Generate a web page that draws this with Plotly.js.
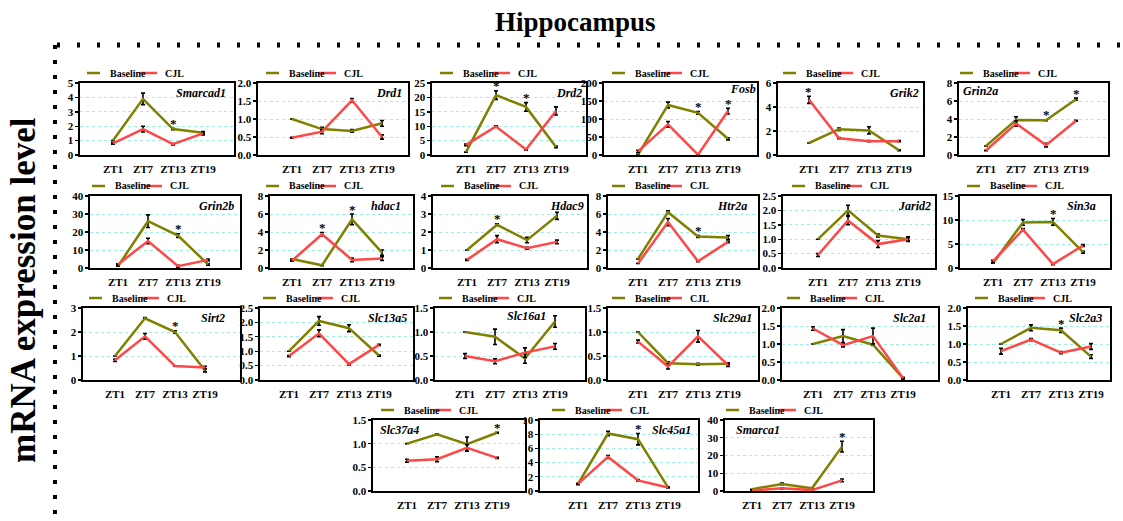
<!DOCTYPE html>
<html>
<head>
<meta charset="utf-8">
<script src="https://cdn.plot.ly/plotly-3.0.1.min.js"></script>
<style>
  html, body { margin: 0; padding: 0; background: #ffffff; }
  #chart { width: 1123px; height: 521px; }
</style>
</head>
<body>
<div id="chart"></div>
<script>
// Sampling times
const timepoints = ['ZT1', 'ZT7', 'ZT13', 'ZT19'];
const seriesNames = ['Baseline', 'CJL'];

// Relative mRNA level (mean, error) per gene; *Sig = time indices marked significant
const smarcad1Base = [1.00, 3.90, 1.80, 1.55], smarcad1BaseErr = [0, 0.40, 0.05, 0.08];
const smarcad1Cjl  = [0.80, 1.80, 0.75, 1.50], smarcad1CjlErr  = [0.05, 0.20, 0.05, 0.10];
const smarcad1Sig  = [2];

const drd1Base = [1.00, 0.72, 0.67, 0.88], drd1BaseErr = [0, 0.05, 0.04, 0.08];
const drd1Cjl  = [0.48, 0.65, 1.52, 0.50], drd1CjlErr  = [0.01, 0.06, 0.05, 0.06];
const drd1Sig  = [];

const drd2Base = [1.0, 20.8, 16.7, 2.8], drd2BaseErr = [0, 1.5, 1.5, 0.3];
const drd2Cjl  = [3.5, 9.9, 1.9, 15.3],  drd2CjlErr  = [0.3, 0.2, 0.2, 1.4];
const drd2Sig  = [1, 2];

const fosbBase = [1, 139, 117, 45], fosbBaseErr = [0, 8, 4, 3];
const fosbCjl  = [10, 85, 1, 122],  fosbCjlErr  = [3, 8, 0, 8];
const fosbSig  = [2, 3];

const grik2Base = [1.00, 2.15, 2.05, 0.40], grik2BaseErr = [0, 0.10, 0.30, 0.04];
const grik2Cjl  = [4.60, 1.40, 1.15, 1.15], grik2CjlErr  = [0.30, 0.05, 0.05, 0.05];
const grik2Sig  = [0];

const grin2aBase = [1.00, 3.90, 3.85, 6.20], grin2aBaseErr = [0, 0.35, 0.05, 0.12];
const grin2aCjl  = [0.50, 3.50, 1.10, 3.80], grin2aCjlErr  = [0.03, 0.30, 0.20, 0.05];
const grin2aSig  = [2, 3];

const grin2bBase = [1, 26, 18, 2.0], grin2bBaseErr = [0, 3.5, 1.0, 0.5];
const grin2bCjl  = [2, 15, 1, 4.5],  grin2bCjlErr  = [0.3, 1.5, 0.5, 0.5];
const grin2bSig  = [2];

const hdac1Base = [1.00, 0.30, 5.40, 1.70], hdac1BaseErr = [0, 0.05, 0.60, 0.30];
const hdac1Cjl  = [0.80, 3.75, 0.90, 1.05], hdac1CjlErr  = [0.05, 0.20, 0.20, 0.20];
const hdac1Sig  = [1, 2];

const hdac9Base = [1.00, 2.40, 1.55, 2.90], hdac9BaseErr = [0, 0.05, 0.15, 0.20];
const hdac9Cjl  = [0.45, 1.60, 1.10, 1.45], hdac9CjlErr  = [0.03, 0.20, 0.05, 0.10];
const hdac9Sig  = [1];

const htr2aBase = [1.00, 6.20, 3.50, 3.40], htr2aBaseErr = [0, 0.15, 0.10, 0.20];
const htr2aCjl  = [0.50, 5.10, 0.75, 2.90], htr2aCjlErr  = [0, 0.40, 0.05, 0.10];
const htr2aSig  = [2];

const jarid2Base = [1.00, 2.00, 1.13, 1.00], jarid2BaseErr = [0, 0.18, 0.05, 0.08];
const jarid2Cjl  = [0.45, 1.65, 0.83, 1.00], jarid2CjlErr  = [0.05, 0.15, 0.12, 0.05];
const jarid2Sig  = [];

const sin3aBase = [1.0, 9.5, 9.6, 3.3], sin3aBaseErr = [0, 0.6, 0.7, 0.2];
const sin3aCjl  = [1.4, 8.0, 0.8, 4.7], sin3aCjlErr  = [0.2, 0.2, 0.1, 0.2];
const sin3aSig  = [2];

const sirt2Base = [1.00, 2.57, 2.00, 0.40], sirt2BaseErr = [0, 0.03, 0.05, 0.06];
const sirt2Cjl  = [0.82, 1.82, 0.58, 0.52], sirt2CjlErr  = [0.05, 0.12, 0, 0.05];
const sirt2Sig  = [2];

const slc13a5Base = [1.00, 2.05, 1.80, 0.85], slc13a5BaseErr = [0, 0.15, 0.12, 0.02];
const slc13a5Cjl  = [0.83, 1.62, 0.55, 1.22], slc13a5CjlErr  = [0.02, 0.12, 0.03, 0.02];
const slc13a5Sig  = [];

const slc16a1Base = [1.00, 0.90, 0.45, 1.22], slc16a1BaseErr = [0, 0.16, 0.10, 0.12];
const slc16a1Cjl  = [0.50, 0.39, 0.57, 0.70], slc16a1CjlErr  = [0.05, 0.05, 0.10, 0.06];
const slc16a1Sig  = [];

const slc29a1Base = [1.00, 0.35, 0.33, 0.34], slc29a1BaseErr = [0, 0.03, 0.02, 0.02];
const slc29a1Cjl  = [0.80, 0.28, 0.91, 0.31], slc29a1CjlErr  = [0.03, 0.05, 0.12, 0.03];
const slc29a1Sig  = [];

const slc2a1Base = [1.00, 1.22, 0.98, 0.05], slc2a1BaseErr = [0, 0.18, 0.02, 0.02];
const slc2a1Cjl  = [1.43, 0.97, 1.22, 0.05], slc2a1CjlErr  = [0.05, 0.05, 0.22, 0.02];
const slc2a1Sig  = [];

const slc2a3Base = [1.00, 1.45, 1.38, 0.65], slc2a3BaseErr = [0, 0.08, 0.06, 0.05];
const slc2a3Cjl  = [0.80, 1.12, 0.76, 0.93], slc2a3CjlErr  = [0.08, 0.03, 0.03, 0.08];
const slc2a3Sig  = [2];

const slc37a4Base = [1.00, 1.20, 0.99, 1.23], slc37a4BaseErr = [0, 0.01, 0.15, 0.01];
const slc37a4Cjl  = [0.64, 0.67, 0.91, 0.70], slc37a4CjlErr  = [0.03, 0.05, 0.07, 0.01];
const slc37a4Sig  = [3];

const slc45a1Base = [1.0, 8.1, 7.3, 0.5], slc45a1BaseErr = [0, 0.3, 0.8, 0.05];
const slc45a1Cjl  = [1.0, 4.8, 1.5, 0.5], slc45a1CjlErr  = [0.1, 0.2, 0.1, 0.05];
const slc45a1Sig  = [2];

const smarca1Base = [1.0, 4.0, 1.5, 25.0], smarca1BaseErr = [0, 0.5, 0.3, 3.0];
const smarca1Cjl  = [0.3, 1.5, 0.5, 6.0],  smarca1CjlErr  = [0, 0.3, 0.1, 0.8];
const smarca1Sig  = [3];

// Gene table: name, series, y-axis top and tick step
const genes = [
  ['Smarcad1', smarcad1Base, smarcad1BaseErr, smarcad1Cjl, smarcad1CjlErr, smarcad1Sig, 5, 1],
  ['Drd1', drd1Base, drd1BaseErr, drd1Cjl, drd1CjlErr, drd1Sig, 2, 0.5],
  ['Drd2', drd2Base, drd2BaseErr, drd2Cjl, drd2CjlErr, drd2Sig, 25, 5],
  ['Fosb', fosbBase, fosbBaseErr, fosbCjl, fosbCjlErr, fosbSig, 200, 50],
  ['Grik2', grik2Base, grik2BaseErr, grik2Cjl, grik2CjlErr, grik2Sig, 6, 2],
  ['Grin2a', grin2aBase, grin2aBaseErr, grin2aCjl, grin2aCjlErr, grin2aSig, 8, 2],
  ['Grin2b', grin2bBase, grin2bBaseErr, grin2bCjl, grin2bCjlErr, grin2bSig, 40, 10],
  ['hdac1', hdac1Base, hdac1BaseErr, hdac1Cjl, hdac1CjlErr, hdac1Sig, 8, 2],
  ['Hdac9', hdac9Base, hdac9BaseErr, hdac9Cjl, hdac9CjlErr, hdac9Sig, 4, 1],
  ['Htr2a', htr2aBase, htr2aBaseErr, htr2aCjl, htr2aCjlErr, htr2aSig, 8, 2],
  ['Jarid2', jarid2Base, jarid2BaseErr, jarid2Cjl, jarid2CjlErr, jarid2Sig, 2.5, 0.5],
  ['Sin3a', sin3aBase, sin3aBaseErr, sin3aCjl, sin3aCjlErr, sin3aSig, 15, 5],
  ['Sirt2', sirt2Base, sirt2BaseErr, sirt2Cjl, sirt2CjlErr, sirt2Sig, 3, 1],
  ['Slc13a5', slc13a5Base, slc13a5BaseErr, slc13a5Cjl, slc13a5CjlErr, slc13a5Sig, 2.5, 0.5],
  ['Slc16a1', slc16a1Base, slc16a1BaseErr, slc16a1Cjl, slc16a1CjlErr, slc16a1Sig, 1.5, 0.5],
  ['Slc29a1', slc29a1Base, slc29a1BaseErr, slc29a1Cjl, slc29a1CjlErr, slc29a1Sig, 1.5, 0.5],
  ['Slc2a1', slc2a1Base, slc2a1BaseErr, slc2a1Cjl, slc2a1CjlErr, slc2a1Sig, 2, 0.5],
  ['Slc2a3', slc2a3Base, slc2a3BaseErr, slc2a3Cjl, slc2a3CjlErr, slc2a3Sig, 2, 0.5],
  ['Slc37a4', slc37a4Base, slc37a4BaseErr, slc37a4Cjl, slc37a4CjlErr, slc37a4Sig, 1.5, 0.5],
  ['Slc45a1', slc45a1Base, slc45a1BaseErr, slc45a1Cjl, slc45a1CjlErr, slc45a1Sig, 10, 2],
  ['Smarca1', smarca1Base, smarca1BaseErr, smarca1Cjl, smarca1CjlErr, smarca1Sig, 40, 10]
];

// Panel frames in page pixels: left, right, top, bottom, x of first time point,
// gene-name side, inset from that side, drop below the frame top
const panelFrames = [
  [80, 234, 83, 155, 113, 'r', 7, 10],   [258, 408, 83, 155, 292, 'r', 5, 10],
  [432, 586, 83, 155, 466, 'r', 3, 10],  [604, 757, 83, 155, 638, 'r', 0, 6],
  [778, 923, 83, 155, 809, 'r', 3, 10],  [959, 1108, 83, 155, 986, 'l', 3, 8],
  [90, 240, 196, 268, 118, 'r', 5, 10],  [270, 413, 196, 268, 292, 'r', 11, 10],
  [433, 587, 196, 268, 467, 'r', 2, 10], [608, 758, 196, 268, 638, 'r', 10, 10],
  [783, 935, 196, 268, 818, 'r', 3, 10], [960, 1110, 196, 268, 993, 'r', 13, 10],
  [83, 240, 308, 380, 115, 'r', 14, 10], [260, 413, 308, 380, 289, 'r', 5, 10],
  [435, 585, 308, 380, 465, 'r', 38, 8], [608, 758, 308, 380, 638, 'r', 5, 10],
  [782, 938, 308, 380, 813, 'r', 11, 10],[968, 1110, 308, 380, 1001, 'r', 7, 10],
  [373, 525, 420, 491, 407, 'l', 6, 10], [540, 698, 420, 491, 578, 'r', 6, 10],
  [725, 873, 420, 491, 752, 'l', 10, 10]
];

const W = 1123, H = 521;
const STEP = 30;                 // pixels between time points
const OLIVE = '#7f8000', RED = '#ff4747';
const SERIF = 'Liberation Serif, Times New Roman, serif';
const px = v => v / W;
const py = v => 1 - v / H;

const traces = [];
const layout = {
  width: W, height: H,
  margin: { l: 0, r: 0, t: 0, b: 0 },
  paper_bgcolor: '#ffffff', plot_bgcolor: '#ffffff',
  showlegend: false,
  font: { family: SERIF, color: '#000000' },
  shapes: [], annotations: []
};

genes.forEach((g, i) => {
  const [name, base, baseErr, cjl, cjlErr, sig, yMax, dtick] = g;
  const [l, r, t, b, z1, side, inset, drop] = panelFrames[i];
  const n = i + 1;
  const xa = 'x' + (n === 1 ? '' : n), ya = 'y' + (n === 1 ? '' : n);
  const xk = 'xaxis' + (n === 1 ? '' : n), yk = 'yaxis' + (n === 1 ? '' : n);

  [[base, baseErr, OLIVE, seriesNames[0]], [cjl, cjlErr, RED, seriesNames[1]]].forEach(([v, e, c, s]) => {
    traces.push({
      type: 'scatter', mode: 'lines', name: s,
      x: timepoints, y: v, xaxis: xa, yaxis: ya,
      line: { color: c, width: 2.5 },
      error_y: { type: 'data', array: e, visible: true, color: '#000000', thickness: 1.6, width: 2 },
      hoverinfo: 'skip', cliponaxis: false
    });
  });

  layout[xk] = {
    domain: [px(l), px(r)], anchor: ya, type: 'category',
    range: [(l - z1) / STEP, (r - z1) / STEP],
    showline: true, mirror: true, linecolor: '#000000', linewidth: 1.6,
    ticks: '', showgrid: false, zeroline: false, fixedrange: true,
    ticklabelstandoff: 3,
    tickfont: { family: SERIF, size: 11, weight: 'bold', color: '#000000' }
  };
  layout[yk] = {
    domain: [py(b), py(t)], anchor: xa,
    range: [0, yMax], tick0: 0, dtick: dtick,
    tickformat: dtick < 1 ? '.1f' : 'd',
    showline: true, mirror: true, linecolor: '#000000', linewidth: 1.6,
    ticks: 'outside', ticklen: 3, tickwidth: 1.4, tickcolor: '#000000',
    showgrid: true, gridcolor: '#a4eedd', griddash: 'dot', gridwidth: 1,
    zeroline: false, fixedrange: true,
    tickfont: { family: SERIF, size: 11, weight: 'bold', color: '#000000' }
  };

  // gene name inside the frame
  layout.annotations.push({
    xref: 'paper', yref: 'paper', showarrow: false,
    x: px(side === 'r' ? r - inset : l + inset), y: py(t + drop),
    xanchor: side === 'r' ? 'right' : 'left', yanchor: 'middle',
    text: name, borderpad: 0,
    font: { family: SERIF, size: 12, weight: 'bold', style: 'italic', color: '#000000' }
  });

  // significance marks above the taller error bar
  sig.forEach(k => {
    const top = Math.max(base[k] + baseErr[k], cjl[k] + cjlErr[k]);
    layout.annotations.push({
      xref: xa, yref: ya, x: k, y: top, showarrow: false,
      xanchor: 'center', yanchor: 'middle', yshift: 5, borderpad: 0,
      text: '*', font: { family: SERIF, size: 13, weight: 'bold', color: '#000000' }
    });
  });

  // per-panel key above the frame
  const ky = py(t - 10);
  layout.shapes.push(
    { type: 'line', xref: 'paper', yref: 'paper', x0: px(z1 - 26), x1: px(z1 - 13), y0: ky, y1: ky,
      line: { color: OLIVE, width: 2.5 } },
    { type: 'line', xref: 'paper', yref: 'paper', x0: px(z1 + 27), x1: px(z1 + 44), y0: ky, y1: ky,
      line: { color: RED, width: 2.5 } }
  );
  layout.annotations.push(
    { xref: 'paper', yref: 'paper', x: px(z1 - 5), y: ky, xanchor: 'left', yanchor: 'middle',
      showarrow: false, text: seriesNames[0],
      font: { family: SERIF, size: 10, weight: 'bold', color: '#000000' } },
    { xref: 'paper', yref: 'paper', x: px(z1 + 50), y: ky, xanchor: 'left', yanchor: 'middle',
      showarrow: false, text: seriesNames[1],
      font: { family: SERIF, size: 10, weight: 'bold', color: '#000000' } }
  );
});

// figure title and shared y label
layout.annotations.push(
  { xref: 'paper', yref: 'paper', x: px(575), y: py(22), xanchor: 'center', yanchor: 'middle',
    showarrow: false, text: 'Hippocampus',
    font: { family: SERIF, size: 27, weight: 'bold', color: '#000000' } },
  { xref: 'paper', yref: 'paper', x: px(23), y: py(290), xanchor: 'center', yanchor: 'middle',
    showarrow: false, text: 'mRNA expression level', textangle: -90,
    font: { family: SERIF, size: 35, weight: 'bold', color: '#000000' } }
);

// dotted frame along the top and left edges
layout.shapes.push(
  { type: 'line', xref: 'paper', yref: 'paper', x0: px(57), x1: px(1123), y0: py(45), y1: py(45),
    line: { color: '#000000', width: 5, dash: '3px,17px' } },
  { type: 'line', xref: 'paper', yref: 'paper', x0: px(55), x1: px(55), y0: py(45), y1: py(521),
    line: { color: '#000000', width: 4, dash: '4px,11px' } }
);

Plotly.newPlot('chart', traces, layout, { staticPlot: true, displayModeBar: false });
</script>
</body>
</html>
